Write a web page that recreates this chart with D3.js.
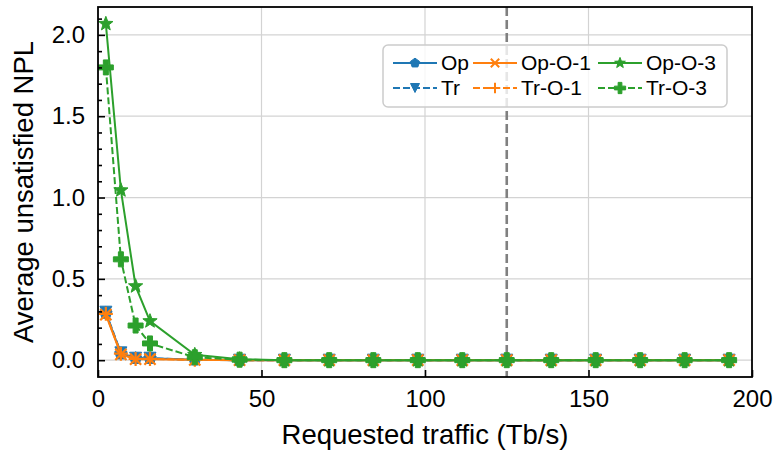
<!DOCTYPE html>
<html>
<head>
<meta charset="utf-8">
<script src="https://cdn.jsdelivr.net/npm/d3@7"></script>
<style>
  body { margin: 0; background: #fff; }
  svg { font-family: "Liberation Sans", Arial, sans-serif; }
</style>
</head>
<body>
<svg id="chart"></svg>
<script>
// data
const traffic = [2.4, 7.0, 11.5, 15.9, 29.6, 43.3, 57.0, 70.7, 84.2, 97.8, 111.4, 125.0, 138.6, 152.2, 165.8, 179.4, 193.0];
const op    = [0.29, 0.040, 0.012, 0.012, 0.003, 0, 0, 0, 0, 0, 0, 0, 0, 0, 0, 0, 0];
const tr    = [0.295, 0.045, 0.012, 0.012, 0.002, 0, 0, 0, 0, 0, 0, 0, 0, 0, 0, 0, 0];
const opO1  = [0.28, 0.035, 0.006, 0.006, 0.002, 0, 0, 0, 0, 0, 0, 0, 0, 0, 0, 0, 0];
const trO1  = [0.285, 0.040, 0.008, 0.008, 0.002, 0, 0, 0, 0, 0, 0, 0, 0, 0, 0, 0, 0];
const opO3  = [2.068, 1.045, 0.455, 0.24, 0.033, 0.006, 0, 0, 0, 0, 0, 0, 0, 0, 0, 0, 0];
const trO3  = [1.80, 0.62, 0.213, 0.103, 0.018, 0.003, 0, 0, 0, 0, 0, 0, 0, 0, 0, 0, 0];
const seriesNames = ['Op', 'Tr', 'Op-O-1', 'Tr-O-1', 'Op-O-3', 'Tr-O-3'];
const xTicks = [0, 50, 100, 150, 200];
const yTicks = [0, 0.5, 1.0, 1.5, 2.0];
const vLineAt = 125;

const width = 775, height = 451;
const margin = { top: 7, right: 23, bottom: 74, left: 98 };
const w = width - margin.left - margin.right;
const h = height - margin.top - margin.bottom;

const svg = d3.select('#chart').attr('width', width).attr('height', height);

const x = d3.scaleLinear().domain([0, 200]).range([0, w]);
const y = d3.scaleLinear().domain([-0.1034, 2.1714]).range([h, 0]);

const g = svg.append('g').attr('transform', `translate(${margin.left},${margin.top})`);

g.append('clipPath').attr('id', 'clip')
  .append('rect').attr('width', w).attr('height', h);

// grid
const gridColor = '#d3d3d3';
g.selectAll('.vgrid').data(xTicks.slice(1, -1)).enter().append('line')
  .attr('x1', d => x(d)).attr('x2', d => x(d)).attr('y1', 0).attr('y2', h)
  .attr('stroke', gridColor).attr('stroke-width', 1.2);
g.selectAll('.hgrid').data(yTicks).enter().append('line')
  .attr('x1', 0).attr('x2', w).attr('y1', d => y(d)).attr('y2', d => y(d))
  .attr('stroke', gridColor).attr('stroke-width', 1.2);

// vertical dashed line
g.append('line')
  .attr('x1', x(vLineAt)).attr('x2', x(vLineAt)).attr('y1', 0).attr('y2', h)
  .attr('stroke', '#808080').attr('stroke-width', 2.6).attr('stroke-dasharray', '9,4');

// marker shapes
function poly(pts) { return 'M' + pts.map(p => p.join(',')).join('L') + 'Z'; }
function pentagon(r) {
  return poly(d3.range(5).map(k => {
    const a = -Math.PI / 2 + k * 2 * Math.PI / 5;
    return [r * Math.cos(a), r * Math.sin(a)];
  }));
}
function star(r) {
  const pts = [];
  for (let k = 0; k < 10; k++) {
    const a = -Math.PI / 2 + k * Math.PI / 5;
    const rr = k % 2 === 0 ? r : r * 0.42;
    pts.push([rr * Math.cos(a), rr * Math.sin(a)]);
  }
  return poly(pts);
}
function triDown(r) { return poly([[0, r], [-r, -r], [r, -r]]); }
function plusFilled(r) {
  const a = r / 3;
  return poly([[-a, -r], [a, -r], [a, -a], [r, -a], [r, a], [a, a], [a, r], [-a, r], [-a, a], [-r, a], [-r, -a], [-a, -a]]);
}
function cross(r) { const a = r * 0.8; return `M${-a},${-a}L${a},${a}M${-a},${a}L${a},${-a}`; }
function plus(r) { return `M${-r},0L${r},0M0,${-r}L0,${r}`; }

const series = [
  { name: seriesNames[0], values: op,   color: '#1f77b4', dash: null,  shape: pentagon,   filled: true,  r: 6.5 },
  { name: seriesNames[1], values: tr,   color: '#1f77b4', dash: '7,3', shape: triDown,    filled: true,  r: 6 },
  { name: seriesNames[2], values: opO1, color: '#ff7f0e', dash: null,  shape: cross,      filled: false, r: 7 },
  { name: seriesNames[3], values: trO1, color: '#ff7f0e', dash: '7,3', shape: plus,       filled: false, r: 7 },
  { name: seriesNames[4], values: opO3, color: '#2ca02c', dash: null,  shape: star,       filled: true,  r: 7.5 },
  { name: seriesNames[5], values: trO3, color: '#2ca02c', dash: '7,3', shape: plusFilled, filled: true,  r: 7.5 }
];

const line = d3.line().x(d => x(d[0])).y(d => y(d[1]));

const plot = g.append('g').attr('clip-path', 'url(#clip)');
series.forEach(s => {
  const pts = traffic.map((t, i) => [t, s.values[i]]);
  plot.append('path').datum(pts)
    .attr('d', line)
    .attr('fill', 'none')
    .attr('stroke', s.color)
    .attr('stroke-width', 2)
    .attr('stroke-dasharray', s.dash);
  plot.selectAll(null).data(pts).enter().append('path')
    .attr('transform', d => `translate(${x(d[0])},${y(d[1])})`)
    .attr('d', s.shape(s.r))
    .attr('fill', s.filled ? s.color : 'none')
    .attr('stroke', s.color)
    .attr('stroke-width', s.filled ? 1 : 2.2);
});

// axes
const xAxis = g.append('g').attr('transform', `translate(0,${h})`)
  .call(d3.axisBottom(x).tickValues(xTicks).tickSizeInner(-7).tickSizeOuter(0).tickPadding(13));
const yAxis = g.append('g')
  .call(d3.axisLeft(y).tickValues(yTicks).tickFormat(d3.format('.1f')).tickSizeInner(-7).tickSizeOuter(0).tickPadding(13));
const minor = d3.range(-1, 22).map(i => i / 10).filter(v => Math.abs(v * 2 - Math.round(v * 2)) > 1e-6 && v > -0.1 && v < 2.17);
g.append('g')
  .call(d3.axisLeft(y).tickValues(minor).tickFormat('').tickSizeInner(-4).tickSizeOuter(0));

[xAxis, yAxis].forEach(a => {
  a.selectAll('text').attr('font-size', 24).attr('fill', '#000').style('font-family', '"Liberation Sans", Arial, sans-serif');
});
g.selectAll('.domain').remove();
g.selectAll('.tick line').attr('stroke', '#000').attr('stroke-width', 1.6);

g.append('rect').attr('width', w).attr('height', h)
  .attr('fill', 'none').attr('stroke', '#000').attr('stroke-width', 1.8);

// axis labels
svg.append('text')
  .attr('x', margin.left + w / 2).attr('y', 444)
  .attr('text-anchor', 'middle').attr('font-size', 27.5)
  .text('Requested traffic (Tb/s)');
svg.append('text')
  .attr('transform', `translate(33,${margin.top + h / 2}) rotate(-90)`)
  .attr('text-anchor', 'middle').attr('font-size', 27.5)
  .text('Average unsatisfied NPL');

// legend
const leg = svg.append('g');
leg.append('rect')
  .attr('x', 383).attr('y', 45).attr('width', 344).attr('height', 62)
  .attr('rx', 5).attr('fill', '#fff').attr('fill-opacity', 0.8)
  .attr('stroke', '#cccccc').attr('stroke-width', 1.5);
const colX = [393, 473, 598];
const rowY = [63, 88];
series.forEach((s, i) => {
  const cx = colX[Math.floor(i / 2)];
  const cy = rowY[i % 2];
  const item = leg.append('g').attr('transform', `translate(${cx},${cy})`);
  item.append('line').attr('x1', 0).attr('x2', 44).attr('y1', 0).attr('y2', 0)
    .attr('stroke', s.color).attr('stroke-width', 2).attr('stroke-dasharray', s.dash);
  item.append('path').attr('transform', 'translate(22,0)')
    .attr('d', s.shape(s.r * 0.75))
    .attr('fill', s.filled ? s.color : 'none')
    .attr('stroke', s.color).attr('stroke-width', s.filled ? 1 : 2);
  item.append('text').attr('x', 48).attr('y', 0).attr('dy', '0.35em')
    .attr('font-size', 21).text(s.name);
});
</script>
</body>
</html>
